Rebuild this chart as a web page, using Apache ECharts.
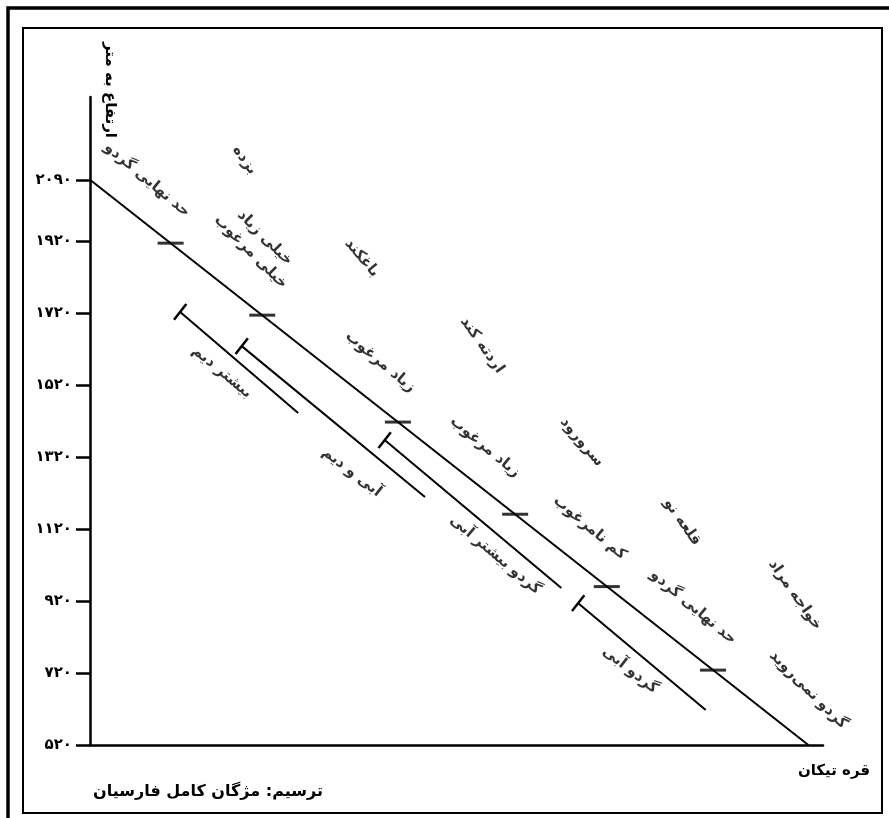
<!DOCTYPE html>
<html><head><meta charset="utf-8">
<script src="https://cdn.jsdelivr.net/npm/echarts@6/dist/echarts.min.js"></script>
<style>html,body{margin:0;padding:0;background:#fff}#c{width:889px;height:818px}</style>
</head><body><div id="c"></div>
<script>
// ---- data ----
const yTickValues = [520, 720, 920, 1120, 1320, 1520, 1720, 1920, 2090];
const yTickLabels = ['۵۲۰', '۷۲۰', '۹۲۰', '۱۱۲۰', '۱۳۲۰', '۱۵۲۰', '۱۷۲۰', '۱۹۲۰', '۲۰۹۰'];

const mainLine = [[0, 2090], [98, 520]];
const mainTicks = [[11, 1914], [23.5, 1714], [42, 1417], [58, 1161], [70.5, 960], [85, 728]];

const zoneBishtarDeym = [[12.3, 1723], [28.4, 1442]];
const zoneAbiDeym = [[20.7, 1628], [45.7, 1209]];
const zoneGerduBishtarAbi = [[40.2, 1367], [64.3, 956]];
const zoneGerduAbi = [[66.6, 914], [84.0, 617]];

const noteTexts = ['حد نهایی گردو', 'بزده', 'خیلی زیاد\nخیلی مرغوب', 'باغکند', 'زیاد مرغوب', 'اردته کند',
  'زیاد مرغوب', 'سرورود', 'کم نامرغوب', 'قلعه نو', 'حد نهایی گردو', 'خواجه مراد', 'گردو نمی‌روید',
  'بیشتر دیم', 'آبی و دیم', 'گردو بیشتر آبی', 'گردو آبی'];
const notePos = [[7.8, 2090], [21.1, 2145], [22.9, 1909], [37.1, 1873], [39.6, 1584], [53.5, 1631],
  [53.9, 1348], [67.1, 1362], [68.2, 1123], [80.8, 1139], [82.3, 903], [96.2, 937], [98.0, 673],
  [18.0, 1556], [35.7, 1278], [55.3, 1048], [73.7, 728]];
const noteAngles = [-40, -55, -45, -50, -40, -55, -40, -50, -40, -55, -40, -55, -45, -40, -38, -40, -38];

const yAxisTitle = 'ارتفاع به متر';
const xEndName = 'قره تیکان';
const credit = 'ترسیم: مژگان کامل فارسیان';

// ---- chart ----
const FONT = 'DejaVu Sans';
const chart = echarts.init(document.getElementById('c'));

function zoneSeries(pts) {
  return {
    type: 'line', silent: true, animation: false,
    lineStyle: { color: '#000', width: 2 },
    showSymbol: true,
    data: [
      { value: pts[0], symbol: 'rect', symbolSize: [2.5, 20], symbolRotate: -38, itemStyle: { color: '#000' } },
      { value: pts[1], symbol: 'none' }
    ]
  };
}

const noteData = noteTexts.map((t, i) => ({
  name: t, value: notePos[i],
  label: { rotate: noteAngles[i] }
}));

chart.setOption({
  backgroundColor: '#fff',
  animation: false,
  grid: { left: 90, right: 66, top: 97, bottom: 73 },
  xAxis: {
    type: 'value', min: 0, max: 100,
    axisLine: { show: true, lineStyle: { color: '#000', width: 2.5 } },
    axisTick: { show: false }, axisLabel: { show: false }, splitLine: { show: false }
  },
  yAxis: {
    type: 'value', min: 520, max: 2320,
    axisLine: { show: true, onZero: false, lineStyle: { color: '#000', width: 2.5 } },
    axisTick: { show: true, length: 14, customValues: yTickValues, lineStyle: { color: '#000', width: 2.5 } },
    axisLabel: {
      customValues: yTickValues, margin: 18,
      formatter: v => yTickLabels[yTickValues.indexOf(v)],
      color: '#000', fontFamily: FONT, fontWeight: 'bold', fontSize: 15
    },
    splitLine: { show: false }
  },
  graphic: [
    { type: 'rect', shape: { x: 8, y: 8, width: 950, height: 950 }, style: { fill: 'none', stroke: '#000', lineWidth: 3.5 }, silent: true },
    { type: 'rect', shape: { x: 23, y: 28, width: 859, height: 785 }, style: { fill: 'none', stroke: '#000', lineWidth: 2 }, silent: true },
    { type: 'text', x: 110, y: 90, rotation: -Math.PI / 2,
      style: { text: yAxisTitle, font: 'bold 15px "DejaVu Sans"', fill: '#000', align: 'center', verticalAlign: 'middle' } },
    { type: 'text', x: 834, y: 771,
      style: { text: xEndName, font: 'bold 15px "DejaVu Sans"', fill: '#000', align: 'center', verticalAlign: 'middle' } },
    { type: 'text', x: 208, y: 792,
      style: { text: credit, font: 'bold 16px "DejaVu Sans"', fill: '#000', align: 'center', verticalAlign: 'middle' } }
  ],
  series: [
    { type: 'line', silent: true, data: mainLine, showSymbol: false, lineStyle: { color: '#000', width: 2 } },
    { type: 'scatter', silent: true, data: mainTicks, symbol: 'rect', symbolSize: [26, 3], itemStyle: { color: '#000' } },
    zoneSeries(zoneBishtarDeym),
    zoneSeries(zoneAbiDeym),
    zoneSeries(zoneGerduBishtarAbi),
    zoneSeries(zoneGerduAbi),
    {
      type: 'scatter', silent: true, clip: false, symbolSize: 1,
      itemStyle: { color: 'rgba(0,0,0,0)' },
      data: noteData,
      label: {
        show: true, position: 'inside', formatter: p => p.name,
        color: '#000', fontFamily: FONT, fontSize: 15, fontWeight: 'bold', lineHeight: 20
      }
    }
  ]
});
</script>
</body></html>
